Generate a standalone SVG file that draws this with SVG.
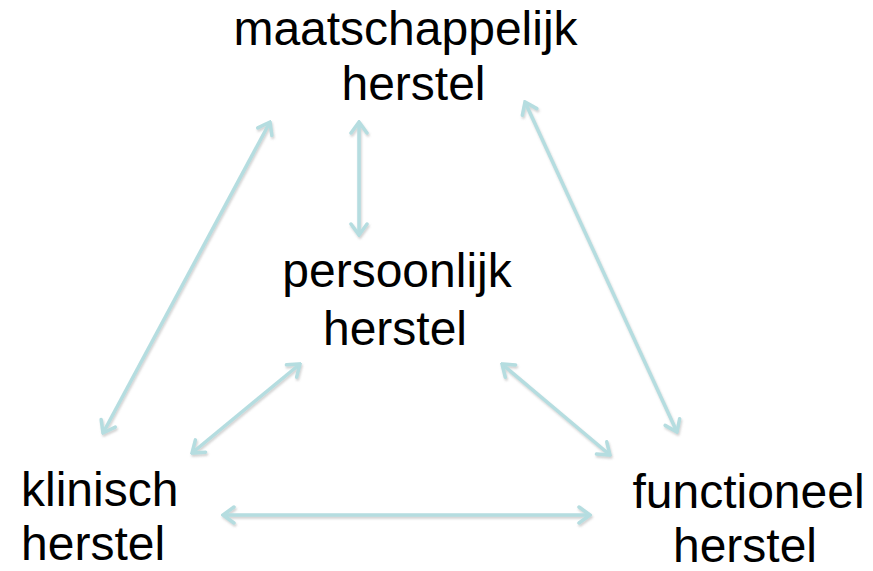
<svg xmlns="http://www.w3.org/2000/svg" width="873" height="571" viewBox="0 0 873 571">
  <defs>
    <style>
      .lbl { font-family: "Liberation Sans", Arial, sans-serif; font-size: 48px; fill: #000; }
      .conn { stroke: #B5DDE0; stroke-width: 3.5; fill: none; marker-start: url(#ah); marker-end: url(#ah); }
    </style>
    <filter id="sh" x="-10%" y="-10%" width="120%" height="120%">
      <feDropShadow dx="1" dy="2" stdDeviation="1" flood-color="#808080" flood-opacity="0.35"/>
    </filter>
    <marker id="ah" viewBox="-14 -10 16 20" refX="0" refY="0" markerWidth="16" markerHeight="20" markerUnits="userSpaceOnUse" orient="auto-start-reverse">
      <path d="M -11 -8 L 0 0 L -11 8" fill="none" stroke="#B5DDE0" stroke-width="3.5" stroke-linejoin="miter" stroke-linecap="round"/>
    </marker>
  </defs>
  <rect width="873" height="571" fill="#fff"/>
  <g id="connectors" filter="url(#sh)">
    <line class="conn" x1="103" y1="433" x2="270" y2="122"/>
    <line class="conn" x1="192" y1="453" x2="300" y2="364"/>
    <line class="conn" x1="223" y1="515" x2="590" y2="515"/>
    <line class="conn" x1="359" y1="235" x2="359" y2="122"/>
    <line class="conn" x1="677" y1="432" x2="525" y2="102"/>
    <line class="conn" x1="610" y1="455" x2="502" y2="364"/>
  </g>
  <g id="maatschappelijk">
    <text class="lbl" x="405.5" y="45" text-anchor="middle">maatschappelijk</text>
    <text class="lbl" x="413.5" y="100" text-anchor="middle">herstel</text>
  </g>
  <g id="persoonlijk">
    <text class="lbl" x="397" y="287" text-anchor="middle">persoonlijk</text>
    <text class="lbl" x="395" y="345" text-anchor="middle">herstel</text>
  </g>
  <g id="klinisch">
    <text class="lbl" x="21" y="506">klinisch</text>
    <text class="lbl" x="21" y="560">herstel</text>
  </g>
  <g id="functioneel">
    <text class="lbl" x="748.5" y="508" text-anchor="middle">functioneel</text>
    <text class="lbl" x="745" y="562" text-anchor="middle">herstel</text>
  </g>
</svg>
